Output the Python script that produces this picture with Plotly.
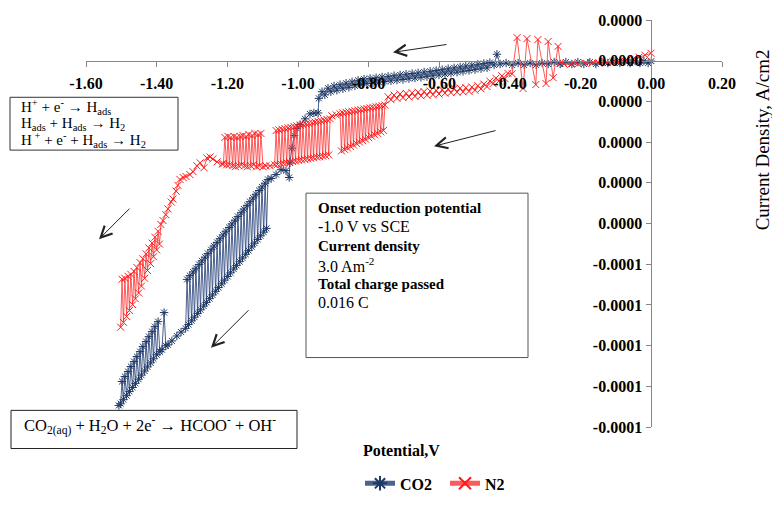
import plotly.graph_objects as go

# ---------------- data (Potential V, Current density A/cm2) -------------
co2_x = [0.000, -0.009, -0.021, -0.032, -0.046, -0.060, -0.075, -0.089, -0.106, -0.123,
         -0.140, -0.157, -0.174, -0.191, -0.208, -0.225, -0.242, -0.258, -0.275, -0.292,
         -0.309, -0.326, -0.343, -0.360, -0.377, -0.394, -0.411, -0.428, -0.437, -0.445,
         -0.457, -0.465, -0.474, -0.482, -0.491, -0.499, -0.508, -0.516, -0.525, -0.533,
         -0.541, -0.550, -0.558, -0.567, -0.575, -0.584, -0.592, -0.601, -0.609, -0.618,
         -0.626, -0.635, -0.643, -0.652, -0.660, -0.669, -0.677, -0.686, -0.694, -0.703,
         -0.711, -0.720, -0.728, -0.737, -0.745, -0.754, -0.762, -0.771, -0.779, -0.788,
         -0.796, -0.805, -0.813, -0.822, -0.830, -0.839, -0.847, -0.856, -0.864, -0.873,
         -0.881, -0.890, -0.898, -0.907, -0.915, -0.924, -0.932, -0.941,
         -0.943, -0.955, -0.966, -0.980, -0.994, -1.003, -1.011, -1.017, -1.023, -1.025,
         -1.034, -1.048, -1.062, -1.076,
         -1.085, -1.089, -1.093, -1.097, -1.102, -1.106, -1.110, -1.114, -1.119, -1.123,
         -1.127, -1.131, -1.136, -1.140, -1.144, -1.148, -1.153, -1.157, -1.161, -1.165,
         -1.170, -1.174, -1.178, -1.182, -1.187, -1.191, -1.195, -1.199, -1.204, -1.208,
         -1.212, -1.216, -1.221, -1.225, -1.229, -1.233, -1.238, -1.242, -1.246, -1.250,
         -1.255, -1.259, -1.263, -1.267, -1.272, -1.276, -1.280, -1.284, -1.289, -1.293,
         -1.297, -1.301, -1.306, -1.310, -1.314, -1.318,
         -1.331, -1.343, -1.357, -1.368, -1.374, -1.379, -1.385, -1.391,
         -1.396, -1.400, -1.405, -1.409, -1.413, -1.417, -1.422, -1.426, -1.430, -1.434,
         -1.439, -1.443, -1.447, -1.451, -1.456, -1.460, -1.464, -1.468, -1.473, -1.477,
         -1.481, -1.485, -1.490, -1.494, -1.498, -1.502, -1.507]
co2_y = [-0.010e-5, -0.058e-5, -0.010e-5, -0.058e-5, -0.010e-5, -0.058e-5, -0.010e-5, -0.058e-5, -0.010e-5, -0.058e-5,
         -0.034e-5, -0.082e-5, -0.034e-5, -0.082e-5, -0.034e-5, -0.082e-5, -0.034e-5, -0.082e-5, -0.034e-5, -0.082e-5,
         -0.058e-5, -0.106e-5, -0.058e-5, -0.106e-5, -0.058e-5, -0.106e-5, -0.058e-5, -0.082e-5, 0.159e-5, -0.106e-5,
         -0.046e-5, -0.175e-5, -0.067e-5, -0.197e-5, -0.089e-5, -0.219e-5, -0.111e-5, -0.240e-5, -0.132e-5, -0.262e-5,
         -0.154e-5, -0.284e-5, -0.175e-5, -0.305e-5, -0.197e-5, -0.327e-5, -0.219e-5, -0.349e-5, -0.240e-5, -0.370e-5,
         -0.262e-5, -0.392e-5, -0.279e-5, -0.409e-5, -0.298e-5, -0.425e-5, -0.315e-5, -0.442e-5, -0.332e-5, -0.462e-5,
         -0.349e-5, -0.478e-5, -0.368e-5, -0.495e-5, -0.385e-5, -0.512e-5, -0.401e-5, -0.529e-5, -0.418e-5, -0.546e-5,
         -0.435e-5, -0.562e-5, -0.452e-5, -0.587e-5, -0.483e-5, -0.620e-5, -0.519e-5, -0.656e-5, -0.553e-5, -0.690e-5,
         -0.589e-5, -0.726e-5, -0.623e-5, -0.762e-5, -0.675e-5, -0.839e-5, -0.762e-5, -0.925e-5,
         -1.284e-5, -1.284e-5, -1.308e-5, -1.428e-5, -1.572e-5, -1.668e-5, -1.837e-5, -2.149e-5, -2.510e-5, -2.870e-5,
         -2.702e-5, -2.678e-5, -2.798e-5, -2.894e-5,
         -2.918e-5, -4.120e-5, -3.010e-5, -4.212e-5, -3.101e-5, -4.303e-5, -3.190e-5, -4.392e-5, -3.281e-5, -4.483e-5,
         -3.373e-5, -4.575e-5, -3.464e-5, -4.666e-5, -3.555e-5, -4.757e-5, -3.644e-5, -4.846e-5, -3.736e-5, -4.938e-5,
         -3.827e-5, -5.029e-5, -3.918e-5, -5.120e-5, -4.010e-5, -5.212e-5, -4.099e-5, -5.301e-5, -4.190e-5, -5.392e-5,
         -4.281e-5, -5.483e-5, -4.373e-5, -5.575e-5, -4.464e-5, -5.666e-5, -4.553e-5, -5.755e-5, -4.644e-5, -5.846e-5,
         -4.736e-5, -5.938e-5, -4.827e-5, -6.029e-5, -4.918e-5, -6.120e-5, -5.007e-5, -6.209e-5, -5.099e-5, -6.301e-5,
         -5.190e-5, -6.392e-5, -5.281e-5, -6.483e-5, -5.373e-5, -6.575e-5,
         -6.668e-5, -6.764e-5, -6.885e-5, -6.981e-5, -7.005e-5, -6.188e-5, -7.101e-5, -7.149e-5,
         -6.411e-5, -7.224e-5, -6.534e-5, -7.325e-5, -6.656e-5, -7.425e-5, -6.779e-5, -7.524e-5, -6.901e-5, -7.625e-5,
         -7.024e-5, -7.726e-5, -7.147e-5, -7.827e-5, -7.269e-5, -7.928e-5, -7.392e-5, -8.029e-5, -7.514e-5, -8.130e-5,
         -7.637e-5, -8.231e-5, -7.760e-5, -8.329e-5, -7.882e-5, -8.430e-5, -8.471e-5]

n2_x = [-0.001, -0.018, -0.035, -0.052, -0.069, -0.089, -0.108, -0.128, -0.148, -0.168,
        -0.188, -0.208, -0.227, -0.247, -0.258,
        -0.264, -0.278, -0.292, -0.298, -0.321, -0.327, -0.352, -0.363, -0.380, -0.394,
        -0.406, -0.414, -0.423, -0.431, -0.440, -0.448, -0.457, -0.465, -0.474, -0.482,
        -0.491, -0.499, -0.508, -0.516, -0.525, -0.533, -0.541, -0.550, -0.558, -0.567,
        -0.575, -0.584, -0.592, -0.601, -0.609, -0.618, -0.626, -0.635, -0.643, -0.652,
        -0.660, -0.669, -0.677, -0.686, -0.694, -0.703, -0.711, -0.720, -0.728, -0.737,
        -0.745,
        -0.754, -0.758, -0.762, -0.766, -0.771, -0.775, -0.779, -0.783, -0.788, -0.792,
        -0.796, -0.800, -0.805, -0.809, -0.813, -0.817, -0.822, -0.826, -0.830, -0.834,
        -0.839, -0.843, -0.847, -0.851, -0.856, -0.860, -0.864, -0.868, -0.873, -0.877,
        -0.881, -0.892, -0.904,
        -0.909, -0.913, -0.918, -0.922, -0.926, -0.930, -0.935, -0.939, -0.943, -0.947,
        -0.952, -0.956, -0.960, -0.964, -0.969, -0.973, -0.977, -0.981, -0.986, -0.990,
        -0.994, -0.998, -1.003, -1.007, -1.011, -1.015, -1.020, -1.024, -1.028, -1.032,
        -1.037, -1.041, -1.045, -1.049, -1.054, -1.058, -1.062, -1.066,
        -1.079, -1.091, -1.099,
        -1.105, -1.109, -1.113, -1.117, -1.122, -1.126, -1.130, -1.134, -1.139, -1.143,
        -1.147, -1.151, -1.156, -1.160, -1.164, -1.168, -1.173, -1.177, -1.181, -1.185,
        -1.190, -1.194, -1.198, -1.202, -1.207, -1.211,
        -1.215, -1.229, -1.241, -1.249, -1.258, -1.266, -1.277, -1.286, -1.297, -1.306,
        -1.317, -1.325, -1.334, -1.340, -1.345, -1.354, -1.359, -1.368, -1.374, -1.382,
        -1.388, -1.392, -1.396, -1.400, -1.405, -1.409, -1.413, -1.417, -1.422, -1.426,
        -1.430, -1.434, -1.439, -1.443, -1.447, -1.451, -1.456, -1.460, -1.464, -1.468,
        -1.473, -1.477, -1.481, -1.485, -1.490, -1.494, -1.498, -1.502]
n2_y = [0.183e-5, 0.135e-5, 0.087e-5, 0.038e-5, 0.014e-5, -0.010e-5, -0.034e-5, -0.034e-5, -0.058e-5, -0.058e-5,
        -0.058e-5, -0.082e-5, -0.082e-5, -0.082e-5, -0.058e-5,
        0.351e-5, -0.418e-5, 0.471e-5, -0.562e-5, 0.519e-5, -0.587e-5, 0.543e-5, -0.683e-5, 0.567e-5, -0.322e-5,
        -0.310e-5, -0.442e-5, -0.373e-5, -0.498e-5, -0.430e-5, -0.563e-5, -0.502e-5, -0.635e-5, -0.575e-5, -0.692e-5,
        -0.615e-5, -0.726e-5, -0.647e-5, -0.755e-5, -0.663e-5, -0.764e-5, -0.673e-5, -0.774e-5, -0.683e-5, -0.784e-5,
        -0.695e-5, -0.798e-5, -0.712e-5, -0.817e-5, -0.731e-5, -0.834e-5, -0.745e-5, -0.849e-5, -0.760e-5, -0.863e-5,
        -0.774e-5, -0.877e-5, -0.788e-5, -0.892e-5, -0.803e-5, -0.906e-5, -0.817e-5, -0.925e-5, -0.846e-5, -0.959e-5,
        -0.887e-5,
        -1.091e-5, -1.712e-5, -1.106e-5, -1.748e-5, -1.118e-5, -1.784e-5, -1.132e-5, -1.820e-5, -1.147e-5, -1.856e-5,
        -1.161e-5, -1.892e-5, -1.173e-5, -1.928e-5, -1.188e-5, -1.964e-5, -1.202e-5, -2.000e-5, -1.214e-5, -2.036e-5,
        -1.228e-5, -2.072e-5, -1.243e-5, -2.108e-5, -1.257e-5, -2.144e-5, -1.269e-5, -2.180e-5, -1.284e-5, -2.216e-5,
        -1.308e-5, -1.332e-5, -1.356e-5,
        -1.428e-5, -2.317e-5, -1.445e-5, -2.332e-5, -1.459e-5, -2.344e-5, -1.476e-5, -2.358e-5, -1.493e-5, -2.370e-5,
        -1.507e-5, -2.385e-5, -1.524e-5, -2.399e-5, -1.541e-5, -2.411e-5, -1.555e-5, -2.425e-5, -1.572e-5, -2.438e-5,
        -1.589e-5, -2.452e-5, -1.603e-5, -2.466e-5, -1.620e-5, -2.478e-5, -1.637e-5, -2.493e-5, -1.651e-5, -2.507e-5,
        -1.668e-5, -2.519e-5, -1.685e-5, -2.534e-5, -1.700e-5, -2.548e-5, -1.716e-5, -2.560e-5,
        -2.582e-5, -2.582e-5, -2.606e-5,
        -1.788e-5, -2.582e-5, -1.813e-5, -2.606e-5, -1.788e-5, -2.558e-5, -1.837e-5, -2.582e-5, -1.813e-5, -2.606e-5,
        -1.861e-5, -2.582e-5, -1.837e-5, -2.558e-5, -1.861e-5, -2.582e-5, -1.885e-5, -2.606e-5, -1.861e-5, -2.582e-5,
        -1.885e-5, -2.558e-5, -1.861e-5, -2.558e-5, -1.885e-5, -2.534e-5,
        -2.534e-5, -2.486e-5, -2.413e-5, -2.365e-5, -2.389e-5, -2.630e-5, -2.510e-5, -2.582e-5, -2.726e-5, -2.798e-5,
        -2.846e-5, -2.870e-5, -2.918e-5, -3.063e-5, -3.207e-5, -3.399e-5, -3.471e-5, -3.639e-5, -3.784e-5, -3.928e-5,
        -4.024e-5, -4.505e-5, -4.192e-5, -4.649e-5, -4.337e-5, -4.817e-5, -4.481e-5, -4.986e-5, -4.601e-5, -5.154e-5,
        -4.745e-5, -5.346e-5, -4.865e-5, -5.538e-5, -4.962e-5, -5.707e-5, -5.082e-5, -5.851e-5, -5.178e-5, -5.995e-5,
        -5.250e-5, -6.139e-5, -5.298e-5, -6.284e-5, -5.346e-5, -6.428e-5, -5.370e-5, -6.548e-5]

x_tickvals = [-1.6, -1.4, -1.2, -1.0, -0.8, -0.6, -0.4, -0.2, 0.0, 0.2]
x_ticktext = ["-1.60", "-1.40", "-1.20", "-1.00", "-0.80", "-0.60", "-0.40", "-0.20", "0.00", "0.20"]
y_tickvals = [1e-5, 0.0, -1e-5, -2e-5, -3e-5, -4e-5, -5e-5, -6e-5, -7e-5, -8e-5, -9e-5]
y_ticktext = ["0.0000", "0.0000", "0.0000", "0.0000", "0.0000", "0.0000",
              "-0.0001", "-0.0001", "-0.0001", "-0.0001", "-0.0001"]

# ---------------- layout helpers (pixel -> paper) ----------------
W, H = 772, 512
ML, MR, MT, MB = 86, 50, 17, 79
PW, PH = W - ML - MR, H - MT - MB


def fx(p):
    return (p - ML) / PW


def fy(p):
    return (H - MB - p) / PH


SERIF = "Liberation Serif"
AXIS_GRAY = "#868686"

fig = go.Figure()
fig.add_trace(go.Scatter(
    x=co2_x, y=co2_y, mode="lines+markers", name="CO2",
    line=dict(color="rgba(45,70,125,0.85)", width=1),
    marker=dict(symbol="asterisk-open", size=7, color="#1F3864",
                line=dict(width=1, color="#1F3864")),
))
fig.add_trace(go.Scatter(
    x=n2_x, y=n2_y, mode="lines+markers", name="N2",
    line=dict(color="rgba(255,60,60,0.85)", width=1),
    marker=dict(symbol="x-thin-open", size=7, color="#FF1A1A",
                line=dict(width=1, color="#FF1A1A")),
))

fig.update_layout(
    width=W, height=H, autosize=False,
    margin=dict(l=ML, r=MR, t=MT, b=MB, pad=0),
    paper_bgcolor="white", plot_bgcolor="white",
    font=dict(family=SERIF, size=16, color="black"),
    showlegend=True,
    legend=dict(orientation="h", x=fx(360), y=fy(508), xanchor="left", yanchor="bottom",
                font=dict(family=SERIF, size=16, color="black", weight="bold"),
                entrywidth=40, entrywidthmode="pixels", bgcolor="rgba(0,0,0,0)",
                itemsizing="constant", itemwidth=30),
    xaxis=dict(range=[-1.6, 0.2], anchor="free", position=0.9, side="bottom",
               showline=True, linecolor=AXIS_GRAY, linewidth=1,
               ticks="outside", ticklen=5, tickcolor=AXIS_GRAY, tickwidth=1,
               tickmode="array", tickvals=x_tickvals, ticktext=x_ticktext,
               tickfont=dict(family=SERIF, size=16, color="black", weight="bold"),
               showgrid=False, zeroline=False, ticklabelstandoff=3),
    yaxis=dict(range=[-9e-5, 1e-5], anchor="free", position=1.6 / 1.8, side="left",
               showline=True, linecolor=AXIS_GRAY, linewidth=1,
               ticks="outside", ticklen=5, tickcolor=AXIS_GRAY, tickwidth=1,
               tickmode="array", tickvals=y_tickvals, ticktext=y_ticktext,
               tickfont=dict(family=SERIF, size=16, color="black", weight="bold"),
               showgrid=False, zeroline=False, ticklabelstandoff=1),
)

shapes = []
annotations = []


def box(x0, y0, x1, y1, color="#333333"):
    shapes.append(dict(type="rect", xref="paper", yref="paper",
                       x0=fx(x0), x1=fx(x1), y0=fy(y1), y1=fy(y0),
                       line=dict(color=color, width=1), fillcolor="white", layer="above"))


def text(x, y, s, size=15, bold=False, anchor="left", angle=0):
    annotations.append(dict(xref="paper", yref="paper", x=fx(x), y=fy(y), text=s,
                            showarrow=False, xanchor=anchor, yanchor="middle",
                            textangle=angle,
                            font=dict(family=SERIF, size=size, color="black",
                                      weight="bold" if bold else "normal")))


def arrow(hx, hy, tx, ty):
    annotations.append(dict(xref="paper", yref="paper", x=fx(hx), y=fy(hy), text="",
                            showarrow=True, ax=tx - hx, ay=ty - hy, axref="pixel", ayref="pixel",
                            arrowhead=5, arrowsize=2.2, arrowwidth=1, arrowcolor="#222222"))


# axis titles
text(401, 457, "Potential,V", size=16, bold=True, anchor="center")
text(762, 140, "Current Density, A/cm2", size=19, anchor="center", angle=-90)

# reaction box (top left)
box(10, 96, 178, 150)
text(19, 106, "H<sup>+</sup> + e<sup>-</sup> → H<sub>ads</sub>", size=15)
text(19, 123, "H<sub>ads</sub> + H<sub>ads</sub> → H<sub>2</sub>", size=15)
text(19, 140, "H<sup> +</sup> + e<sup>-</sup> + H<sub>ads</sub> → H<sub>2</sub>", size=15)

# info box
box(306, 194, 528, 362, color="#555555")
text(316, 209, "Onset reduction potential", size=15, bold=True)
text(316, 228, "-1.0 V vs SCE", size=16)
text(316, 248, "Current density", size=15, bold=True)
text(316, 267, "3.0 Am<sup>-2</sup>", size=16)
text(316, 287, "Total charge passed", size=15, bold=True)
text(316, 306, "0.016 C", size=16)

# formate box (bottom left)
box(11, 416, 297, 455, color="#222222")
text(22, 431, "CO<sub>2(aq)</sub> + H<sub>2</sub>O + 2e<sup>-</sup> → HCOO<sup>-</sup> + OH<sup>-</sup>", size=16.5)

# scan direction arrows
arrow(393, 50, 448, 42)
arrow(434, 146, 497, 130)
arrow(99, 241, 131, 209)
arrow(211, 352, 250, 313)

fig.update_layout(shapes=shapes, annotations=annotations)
fig.write_html("out.html", config={"displayModeBar": False},
               post_script="document.body.style.margin='0px';document.body.style.overflow='hidden';")
